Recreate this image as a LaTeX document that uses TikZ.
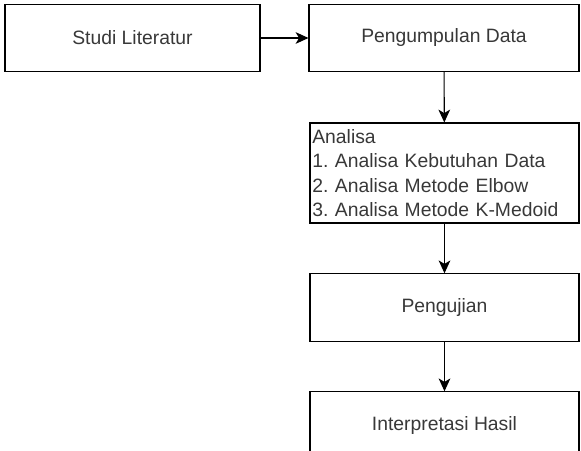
\documentclass[tikz,border=0pt]{standalone}
\usepackage{fontspec}
\setmainfont{Liberation Sans}
\usetikzlibrary{arrows.meta}
\definecolor{txtgray}{HTML}{383838}
\frenchspacing
\begin{document}
\begin{tikzpicture}[x=0.03cm, y=-0.03cm]

      \tikzset{stage/.style={draw, line width=0.9pt, inner sep=2pt, text=txtgray,
                font=\fontsize{16.5}{20.7}\selectfont, minimum height=2.02cm},
               flow/.style={line width=0.9pt, -{Stealth[length=11pt, width=10pt, inset=3pt]}}}
      \useasboundingbox (0,0) rectangle (581,451);
      \clip (0,0) rectangle (581,451);
%% Stages
      	\node[stage, minimum width=7.65cm] (studi) at (132.5,38) {Studi Literatur};
      	\node[stage, minimum width=8.1cm] (kumpul) at (444,38) {Pengumpulan Data};
      	\node[stage, minimum width=8.07cm, text width=7.93cm, align=left, minimum height=3cm] (analisa) at (444.5,173)
      	  {Analisa\\1. Analisa Kebutuhan Data\\2. Analisa Metode Elbow\\3. Analisa Metode K-Medoid};
      	\node[stage, minimum width=8.07cm] (uji) at (444.5,307.5) {Pengujian};
      	\node[stage, minimum width=8.07cm] (hasil) at (444.5,425.5) {Interpretasi Hasil};
%Arrows
		\draw[flow] (studi) -- (kumpul);
		\draw[flow] (kumpul) -- (analisa);
		\draw[flow] (analisa) -- (uji);
		\draw[flow] (uji) -- (hasil);

	\end{tikzpicture}
\end{document}
